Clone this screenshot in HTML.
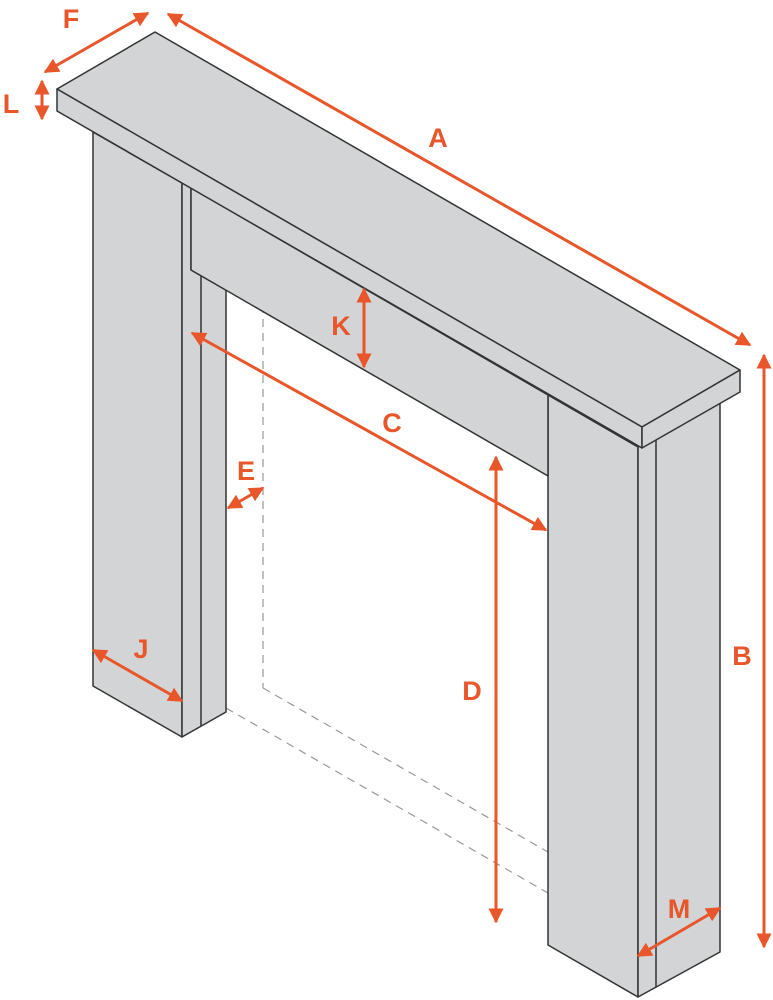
<!DOCTYPE html>
<html><head><meta charset="utf-8"><style>html,body{margin:0;padding:0;background:#fff}svg{display:block}</style></head>
<body>
<svg width="773" height="1000" viewBox="0 0 773 1000" xmlns="http://www.w3.org/2000/svg">
<defs>
<marker id="ah" viewBox="0 0 10 10" refX="9" refY="5" markerWidth="5" markerHeight="5" orient="auto-start-reverse" markerUnits="strokeWidth">
<path d="M0,0 L10,5 L0,10 z" fill="#e8562a"/></marker>
</defs>
<g stroke="#333" stroke-width="1.5" fill="#d3d4d6" stroke-linejoin="round">
<!-- dashed opening -->
<g fill="none" stroke="#999" stroke-dasharray="8,6" stroke-width="1.2">
<line x1="263" y1="305" x2="263" y2="688"/>
<line x1="263" y1="688" x2="548" y2="852"/>
<line x1="226" y1="708" x2="548" y2="893"/>
</g>
<!-- left leg -->
<polygon points="93,132 182,183 182,737 93,686"/>
<polygon points="182,183 191,188 191,270 226,290 226,712 182,737"/>
<line x1="201" y1="276" x2="201" y2="726"/>
<!-- right leg -->
<polygon points="548,395 638,447 638,997 548,945"/>
<polygon points="638,447 720,400 720,952 638,997"/>
<line x1="656" y1="437" x2="656" y2="987"/>
<!-- frieze -->
<polygon points="191,188 548,395 548,476 191,270"/>
<!-- shelf -->
<polygon points="155,32 740,370 642,427 57,89"/>
<polygon points="57,89 642,427 642,448 57,111"/>
<polygon points="642,427 740,370 740,392 642,448"/>
</g>
<g stroke="#e8562a" stroke-width="3" fill="none" marker-start="url(#ah)" marker-end="url(#ah)">
<line x1="168" y1="14" x2="750" y2="345"/>
<line x1="45" y1="72" x2="148" y2="13"/>
<line x1="42" y1="81" x2="42" y2="119"/>
<line x1="364" y1="289" x2="364" y2="367"/>
<line x1="192" y1="333" x2="546" y2="530"/>
<line x1="228" y1="508" x2="263" y2="488"/>
<line x1="496" y1="457" x2="496" y2="922"/>
<line x1="764" y1="355" x2="764" y2="947"/>
<line x1="93" y1="650" x2="182" y2="701"/>
<line x1="638" y1="956" x2="720" y2="908"/>
</g>
<g fill="#e8562a" font-family="Liberation Sans, sans-serif" font-weight="bold" font-size="27" text-anchor="middle">
<text x="71" y="28">F</text>
<text x="11" y="113">L</text>
<text x="438" y="147">A</text>
<text x="341" y="335">K</text>
<text x="392" y="432">C</text>
<text x="246" y="480">E</text>
<text x="472" y="700">D</text>
<text x="742" y="665">B</text>
<text x="141" y="658">J</text>
<text x="679" y="918">M</text>
</g>
</svg>
</body></html>
